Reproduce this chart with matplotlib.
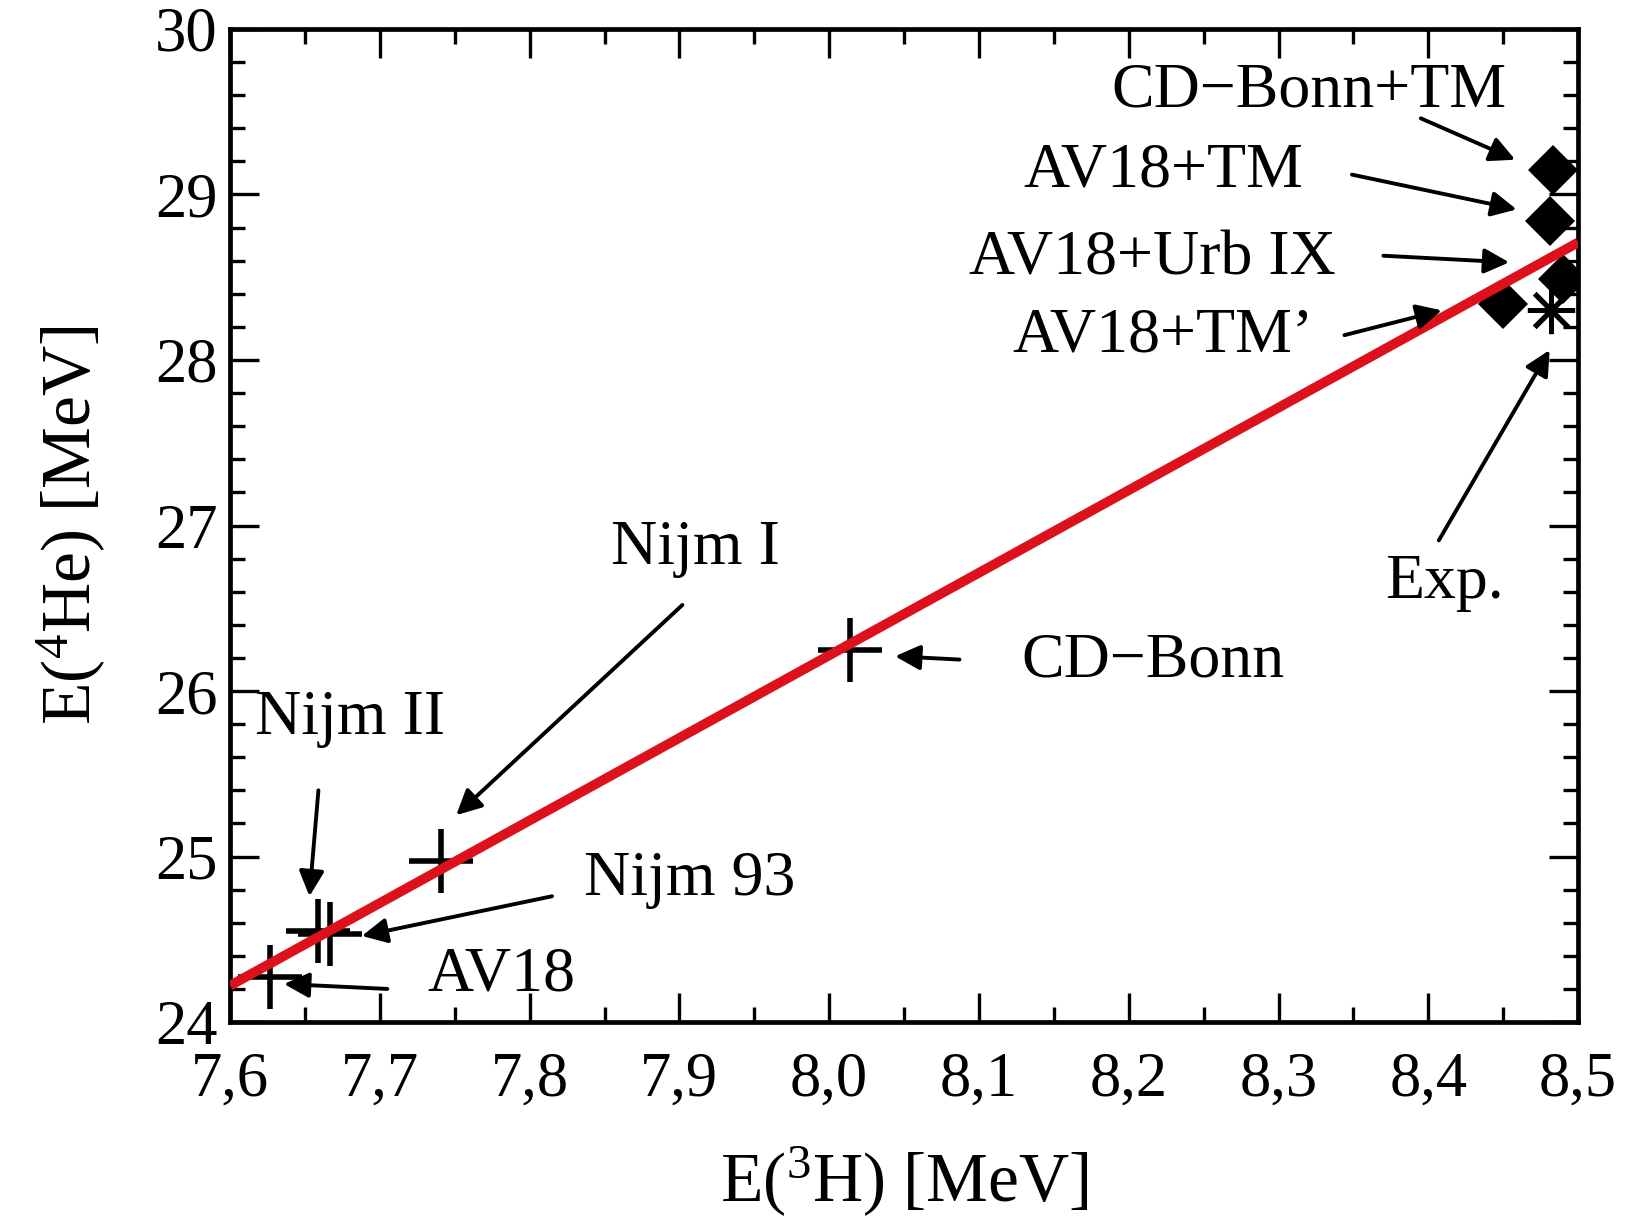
import matplotlib
matplotlib.use("Agg")
import matplotlib.pyplot as plt
from matplotlib.ticker import MultipleLocator, FixedLocator, FixedFormatter

plt.rcParams['font.family'] = ['Liberation Serif', 'DejaVu Serif']
plt.rcParams['mathtext.fontset'] = 'custom'
plt.rcParams['mathtext.rm'] = 'Liberation Serif'
plt.rcParams['mathtext.it'] = 'Liberation Serif:italic'

# ---- data ----
plus_names = ["AV18", "Nijm II", "Nijm 93", "Nijm I", "CD\u2212Bonn"]
plus_e3h = [7.627, 7.659, 7.667, 7.741, 8.014]
plus_e4he = [24.27, 24.55, 24.53, 24.97, 26.25]

diamond_names = ["CD\u2212Bonn+TM", "AV18+TM", "AV18+Urb IX", "AV18+TM\u2019"]
diamond_e3h = [8.483, 8.481, 8.490, 8.450]
diamond_e4he = [29.15, 28.84, 28.49, 28.34]

exp_e3h = [8.482]
exp_e4he = [28.30]

line_x = [7.6, 8.5]
line_y = [24.22, 28.71]

x_ticks = [7.6, 7.7, 7.8, 7.9, 8.0, 8.1, 8.2, 8.3, 8.4, 8.5]
x_ticklabels = ["7,6", "7,7", "7,8", "7,9", "8,0", "8,1", "8,2", "8,3", "8,4", "8,5"]
y_ticks = [24, 25, 26, 27, 28, 29, 30]
y_ticklabels = ["24", "25", "26", "27", "28", "29", "30"]

# ---- figure ----
fig = plt.figure(figsize=(16.35, 12.17), dpi=100)
ax = fig.add_axes([0.1407, 0.1602, 0.8245, 0.8160])

ax.plot(plus_e3h, plus_e4he, linestyle='none', marker='+', markersize=46,
        markeredgewidth=4.0, color='black', zorder=3)
ax.plot(diamond_e3h, diamond_e4he, linestyle='none', marker='D', markersize=25,
        markeredgewidth=0, color='black', zorder=3)
ax.plot(exp_e3h, exp_e4he, linestyle='none', marker=(8, 2, 0), markersize=34,
        markeredgewidth=3.6, color='black', zorder=3)
ax.plot(line_x, line_y, color='#dc111c', linewidth=7, solid_capstyle='butt', zorder=4)

ax.set_xlim(7.6, 8.5)
ax.set_ylim(24, 30)
ax.xaxis.set_major_locator(FixedLocator(x_ticks))
ax.xaxis.set_major_formatter(FixedFormatter(x_ticklabels))
ax.xaxis.set_minor_locator(MultipleLocator(0.05))
ax.yaxis.set_major_locator(FixedLocator(y_ticks))
ax.yaxis.set_major_formatter(FixedFormatter(y_ticklabels))
ax.yaxis.set_minor_locator(MultipleLocator(0.2))

ax.tick_params(which='both', direction='in', top=True, right=True, width=2.4, color='black')
ax.tick_params(which='major', length=21)
ax.tick_params(which='minor', length=11)
ax.tick_params(axis='x', which='major', labelsize=45, pad=21)
ax.tick_params(axis='y', which='major', labelsize=45, pad=9)
for s in ax.spines.values():
    s.set_linewidth(3.4)

ax.set_xlabel(r"E($^{3}$H) [MeV]", fontsize=50, labelpad=26)
ax.set_ylabel(r"E($^{4}$He) [MeV]", fontsize=50, labelpad=34)

# ---- annotations ----
fs = 46
arrow = dict(arrowstyle='-|>', lw=2.8, color='black', mutation_scale=38,
             shrinkA=0, shrinkB=0)

def note(text, tx, ty, tail, head):
    ax.text(tx, ty, text, fontsize=fs, ha='center', va='center', zorder=5)
    ax.annotate('', xy=head, xytext=tail, arrowprops=arrow, zorder=5)

note(diamond_names[0], 8.320, 29.62, (8.395, 29.46), (8.458, 29.21))
note(diamond_names[1], 8.223, 29.14, (8.349, 29.12), (8.459, 28.91))
note(diamond_names[2], 8.216, 28.61, (8.370, 28.63), (8.454, 28.59))
note(diamond_names[3], 8.223, 28.14, (8.344, 28.15), (8.409, 28.30))
note("Exp.", 8.411, 26.65, (8.407, 26.91), (8.481, 28.06))
note(plus_names[4], 8.216, 26.18, (8.087, 26.19), (8.044, 26.21))
note(plus_names[3], 7.911, 26.86, (7.902, 26.52), (7.751, 25.25))
note(plus_names[1], 7.680, 25.83, (7.659, 25.40), (7.653, 24.76))
note(plus_names[2], 7.907, 24.86, (7.815, 24.76), (7.688, 24.52))
note(plus_names[0], 7.781, 24.28, (7.705, 24.20), (7.636, 24.23))

fig.savefig("out.png", dpi=100, facecolor='white')
